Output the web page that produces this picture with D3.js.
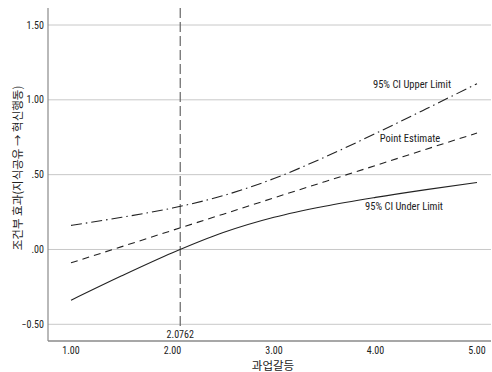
<!DOCTYPE html>
<html><head><meta charset="utf-8">
<script src="https://cdn.jsdelivr.net/npm/d3@7"></script>
<style>
body{margin:0;background:#fff;}
text{font-family:"Liberation Sans Narrow","Roboto Condensed","Noto Sans CJK KR",Arial,sans-serif;fill:#222;}
.kr{font-family:"Noto Sans CJK KR","Noto Sans",sans-serif;}
</style></head>
<body>
<svg id="c" width="492" height="372"></svg>
<script>
const xVals = [1.0, 1.5, 2.0, 2.5, 3.0, 3.5, 4.0, 4.5, 5.0];
const pointEstimate = [-0.089, 0.019, 0.128, 0.236, 0.345, 0.453, 0.561, 0.670, 0.778];
const upperLimit = [0.161, 0.215, 0.277, 0.360, 0.474, 0.617, 0.775, 0.940, 1.108];
const underLimit = [-0.339, -0.176, -0.022, 0.113, 0.215, 0.289, 0.348, 0.400, 0.448];
const xTicks = [1, 2, 3, 4, 5];
const yTicks = [-0.5, 0, 0.5, 1.0, 1.5];
const jnPoint = 2.0762;
const xTitle = "과업갈등";
const yTitle = "조건부 효과(지식공유 → 혁신행동)";
const seriesLabels = ["95% CI Upper Limit", "Point Estimate", "95% CI Under Limit"];

const svg = d3.select("#c");
const L = 48, R = 491, T = 8, B = 341;
const x = d3.scaleLinear().domain([1, 5]).range([71, 477]);
const y = d3.scaleLinear().domain([-0.5, 1.5]).range([324.3, 25]);

// gridlines
svg.append("g").selectAll("line").data(yTicks).join("line")
  .attr("x1", L).attr("x2", R).attr("y1", d => y(d)).attr("y2", d => y(d))
  .attr("stroke", "#c8c8c8").attr("stroke-width", 1);

// axes lines
svg.append("line").attr("x1", L).attr("x2", L).attr("y1", T).attr("y2", B).attr("stroke", "#8a8a8a").attr("stroke-width", 1.2);
svg.append("line").attr("x1", L).attr("x2", R).attr("y1", B).attr("y2", B).attr("stroke", "#8a8a8a").attr("stroke-width", 1.5);

const fmt = d => { let s = d3.format(".2f")(d); return s.replace(/^0\./, ".").replace(/^-0\./, "-."); };

// y tick labels
svg.append("g").selectAll("text").data(yTicks).join("text")
  .attr("x", 44).attr("y", d => y(d)).attr("dy", "0.35em").attr("text-anchor", "end")
  .attr("font-size", 10).text(fmt);
// x tick labels
svg.append("g").selectAll("text").data(xTicks).join("text")
  .attr("x", d => x(d)).attr("y", 354).attr("text-anchor", "middle")
  .attr("font-size", 10).text(d => d3.format(".2f")(d));

// titles
svg.append("text").attr("class", "kr").attr("x", 273).attr("y", 370).attr("text-anchor", "middle")
  .attr("font-size", 11.5).text(xTitle);
svg.append("text").attr("class", "kr").attr("transform", "translate(22,168) rotate(-90)")
  .attr("text-anchor", "middle").attr("font-size", 11.5).text(yTitle);

// vertical JN line
svg.append("line").attr("x1", x(jnPoint)).attr("x2", x(jnPoint)).attr("y1", T).attr("y2", 327)
  .attr("stroke", "#666").attr("stroke-width", 1.2).attr("stroke-dasharray", "10,4");
svg.append("text").attr("x", x(jnPoint)).attr("y", 337.5).attr("text-anchor", "middle")
  .attr("font-size", 10).text(d3.format(".4f")(jnPoint));

const line = arr => d3.line().x((d, i) => x(xVals[i])).y(d => y(d)).curve(d3.curveMonotoneX)(arr);
svg.append("path").attr("d", line(upperLimit)).attr("fill", "none").attr("stroke", "#222")
  .attr("stroke-width", 1.1).attr("stroke-dasharray", "11,4,1.5,4");
svg.append("path").attr("d", line(pointEstimate)).attr("fill", "none").attr("stroke", "#222")
  .attr("stroke-width", 1.1).attr("stroke-dasharray", "7,5");
svg.append("path").attr("d", line(underLimit)).attr("fill", "none").attr("stroke", "#222")
  .attr("stroke-width", 1.1);

// series labels
const labPos = [[412, 88], [410, 142], [404, 210]];
svg.append("g").selectAll("text").data(seriesLabels).join("text")
  .attr("x", (d, i) => labPos[i][0]).attr("y", (d, i) => labPos[i][1]).attr("text-anchor", "middle")
  .attr("font-size", 10.5).text(d => d);
</script>
</body></html>
